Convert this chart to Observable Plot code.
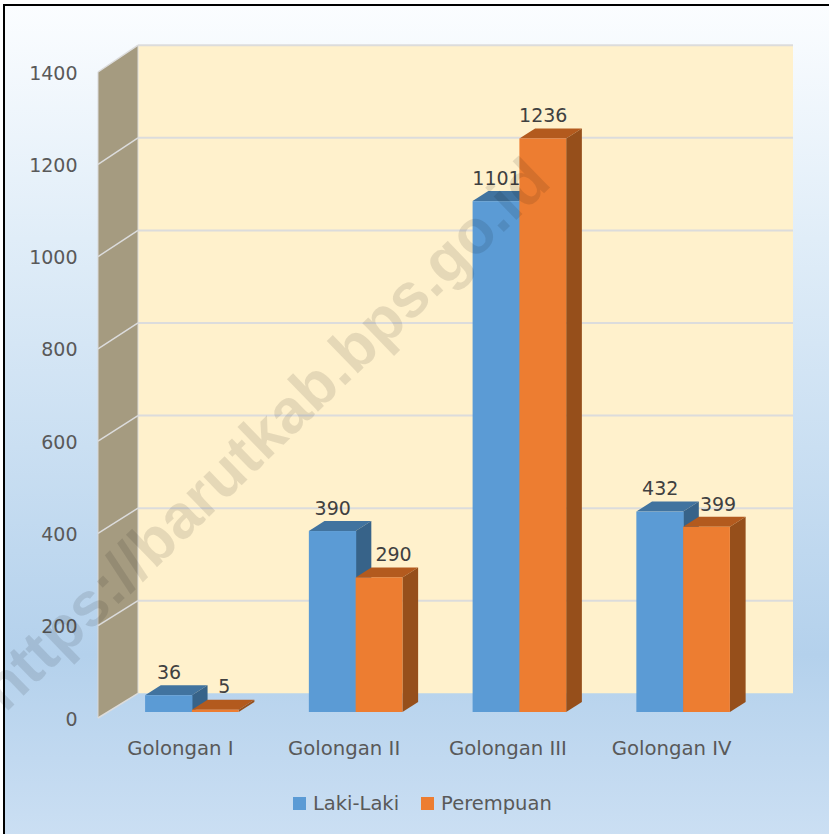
<!DOCTYPE html>
<html>
<head>
<meta charset="utf-8">
<script src="https://cdn.jsdelivr.net/npm/d3@7"></script>
<script src="https://cdn.jsdelivr.net/npm/@observablehq/plot@0.6"></script>
<style>
  html, body { margin: 0; padding: 0; background: #fff; }
  #chart { position: relative; width: 829px; height: 834px; overflow: hidden; }
  #chart > svg { display: block; position: absolute; left: 0; top: 0; }
  #frame { position: absolute; left: 3px; top: 4px; right: -4px; bottom: -4px;
           border-left: 2.5px solid #000; border-top: 2.5px solid #000;
           background: linear-gradient(180deg, #fbfdff 0%, #e0edf8 28%, #b4d1ec 78%, #cbdff3 100%); }
  #legend { position: absolute; left: 293px; top: 787px; }
  #legend span { margin-right: 22px !important; }
  #legend svg { margin-right: 7px !important; }
</style>
</head>
<body>
<div id="chart"><div id="frame"></div></div>
<script>
const categories = ["Golongan I", "Golongan II", "Golongan III", "Golongan IV"];
const lakiLaki = [36, 390, 1101, 432];
const perempuan = [5, 290, 1236, 399];
const seriesNames = ["Laki-Laki", "Perempuan"];
const seriesColors = ["#5b9bd5", "#ed7d31"];
const yTicks = [0, 200, 400, 600, 800, 1000, 1200, 1400];
const watermark = "https://barutkab.bps.go.id";

const rowsA = categories.map((c, i) => ({category: c, series: seriesNames[0], value: lakiLaki[i]}));
const rowsB = categories.map((c, i) => ({category: c, series: seriesNames[1], value: perempuan[i]}));

const font = "'DejaVu Sans', sans-serif";
const textFill = "#595959";
const W = 829, H = 834;
const ml = 98, mr = 76, mt = 72, mb = 116;
const barW = 46.8;
const wallDX = 40, wallDY = -24.7;     // depth of the box at the floor
const wallK = 1.0032;                  // the back wall's scale against the front edge
const faceDX = 15.7, faceDY = -10;     // depth of one bar
const barDX = 12, barDY = -6;          // bars stand part way into the box
const barK = 1.0056;                   // bars are slightly nearer, so slightly larger
const faceColors = {
  [seriesNames[0]]: {top: "#41739f", side: "#376389"},
  [seriesNames[1]]: {top: "#b35a1e", side: "#964f1b"}
};

const svgNS = "http://www.w3.org/2000/svg";
function poly(parent, points, fill) {
  const p = document.createElementNS(svgNS, "polygon");
  p.setAttribute("points", points.map(q => q.join(",")).join(" "));
  p.setAttribute("fill", fill);
  parent.appendChild(p);
}
function seg(parent, a, b, stroke, w) {
  const l = document.createElementNS(svgNS, "line");
  l.setAttribute("x1", a[0]); l.setAttribute("y1", a[1]);
  l.setAttribute("x2", b[0]); l.setAttribute("y2", b[1]);
  l.setAttribute("stroke", stroke); l.setAttribute("stroke-width", w);
  parent.appendChild(l);
}

// the box: back wall, left wall and their gridlines, from the chart's own scales
function box(index, {y}) {
  const g = document.createElementNS(svgNS, "g");
  const x0 = ml, x1 = W - mr;
  const y0 = y(0), yT = y(yTicks[yTicks.length - 1]);
  const back = v => y0 + wallDY - (y0 - v) * wallK;
  poly(g, [[x0 + wallDX, back(yT)], [x1 + wallDX, back(yT)], [x1 + wallDX, back(y0)], [x0 + wallDX, back(y0)]], "#fff1cc");
  poly(g, [[x0, yT], [x0 + wallDX, back(yT)], [x0 + wallDX, back(y0)], [x0, y0]], "#a59b80");
  for (const t of yTicks) {
    const v = y(t);
    if (t > 0) seg(g, [x0 + wallDX, back(v)], [x1 + wallDX, back(v)], "#dcdcdc", 2);
    seg(g, [x0, v], [x0 + wallDX, back(v)], "#dcdcdc", 1.5);
  }
  seg(g, [x0, yT], [x0, y0], "#d9d9d9", 1);
  seg(g, [x0 + wallDX, back(yT)], [x0 + wallDX, back(y0)], "#d9d9d9", 1);
  return g;
}

function barPixel(v0, v) { return v0 + barDY - (v0 - v) * barK; }
const bandOf = s => (typeof s.x.bandwidth === "function" ? s.x.bandwidth() : s.x.bandwidth);

function bars3d(rows, side) {
  const name = rows[0].series;
  const faces = faceColors[name];
  return Plot.barY(rows, {
    x: "category", y: "value", fill: "series",
    insetLeft: side === 0 ? 81.9 - barW + barDX : 81.9 + barDX,
    insetRight: side === 0 ? 81.9 - barDX - 0.6 : 81.9 - barW - barDX,
    render(I, s, v, d, c, next) {
      const Y1 = Float64Array.from(v.y1, q => barPixel(q, q));
      const Y2 = Float64Array.from(v.y2, (q, i) => barPixel(v.y1[i], q));
      const node = next(I, s, {...v, y1: Y1, y2: Y2}, d, c);
      const g = document.createElementNS(svgNS, "g");
      const bw = bandOf(s);
      for (const i of I) {
        const l = v.x[i] + bw / 2 + barDX + (side === 0 ? -barW : 0);
        const r = l + barW, t = Y2[i], b = Y1[i];
        poly(g, [[l, t], [l + faceDX, t + faceDY], [r + faceDX, t + faceDY], [r, t]], faces.top);
        poly(g, [[r, t], [r + faceDX, t + faceDY], [r + faceDX, b + faceDY], [r, b]], faces.side);
      }
      const wrap = document.createElementNS(svgNS, "g");
      wrap.appendChild(g);
      wrap.appendChild(node);
      return wrap;
    }
  });
}

// extra sideways shift that keeps a value label clear of its neighbour, per category
const labelNudgeB = [8.5, 14, 0, 11];

function valueLabels(rows, side, nudge) {
  return Plot.text(rows, {
    x: "category", y: "value", text: d => String(d.value),
    fontFamily: font, fontSize: 19, fill: "#404040",
    render(I, s, v, d, c, next) {
      const X = Float64Array.from(v.x, (q, i) => q + barDX + (side === 0 ? -barW / 2 : barW / 2) + (nudge ? nudge[i] : 0));
      const y0 = s.y(0);
      const Y = Float64Array.from(v.y, q => barPixel(y0, q) - 22.8);
      return next(I, s, {...v, x: X, y: Y}, d, c);
    }
  });
}

const plot = Plot.plot({
  width: W, height: H,
  marginLeft: ml, marginRight: mr, marginTop: mt, marginBottom: mb,
  style: {background: "transparent", overflow: "hidden"},
  x: {type: "band", domain: categories, padding: 0, round: false, label: null},
  y: {domain: [0, 1400], label: null},
  color: {type: "ordinal", domain: seriesNames, range: seriesColors},
  marks: [
    box,
    Plot.axisY({ticks: yTicks, tickSize: 0, tickPadding: 21, dy: 1, fontSize: 19, fontFamily: font, fill: textFill, label: null, tickFormat: d => String(d)}),
    Plot.axisX({tickSize: 0, tickPadding: 22, fontSize: 19.7, fontFamily: font, fill: textFill, label: null}),
    bars3d(rowsA, 0),
    bars3d(rowsB, 1),
    valueLabels(rowsA, 0, null),
    valueLabels(rowsB, 1, labelNudgeB),
    Plot.text([watermark], {
      text: d => d, frameAnchor: "top-left", dx: 150, dy: 345, rotate: -44, textAnchor: "middle",
      fontFamily: "'Liberation Sans', Arial, sans-serif", fontWeight: "bold", fontSize: 62,
      fill: "#000", fillOpacity: 0.1
    })
  ]
});

const chart = document.getElementById("chart");
chart.appendChild(plot);
const legend = plot.legend("color", {swatchSize: 13, style: {fontSize: "19.5px", fontFamily: font, color: textFill}});
const holder = document.createElement("div");
holder.id = "legend";
holder.appendChild(legend);
chart.appendChild(holder);
</script>
</body>
</html>
